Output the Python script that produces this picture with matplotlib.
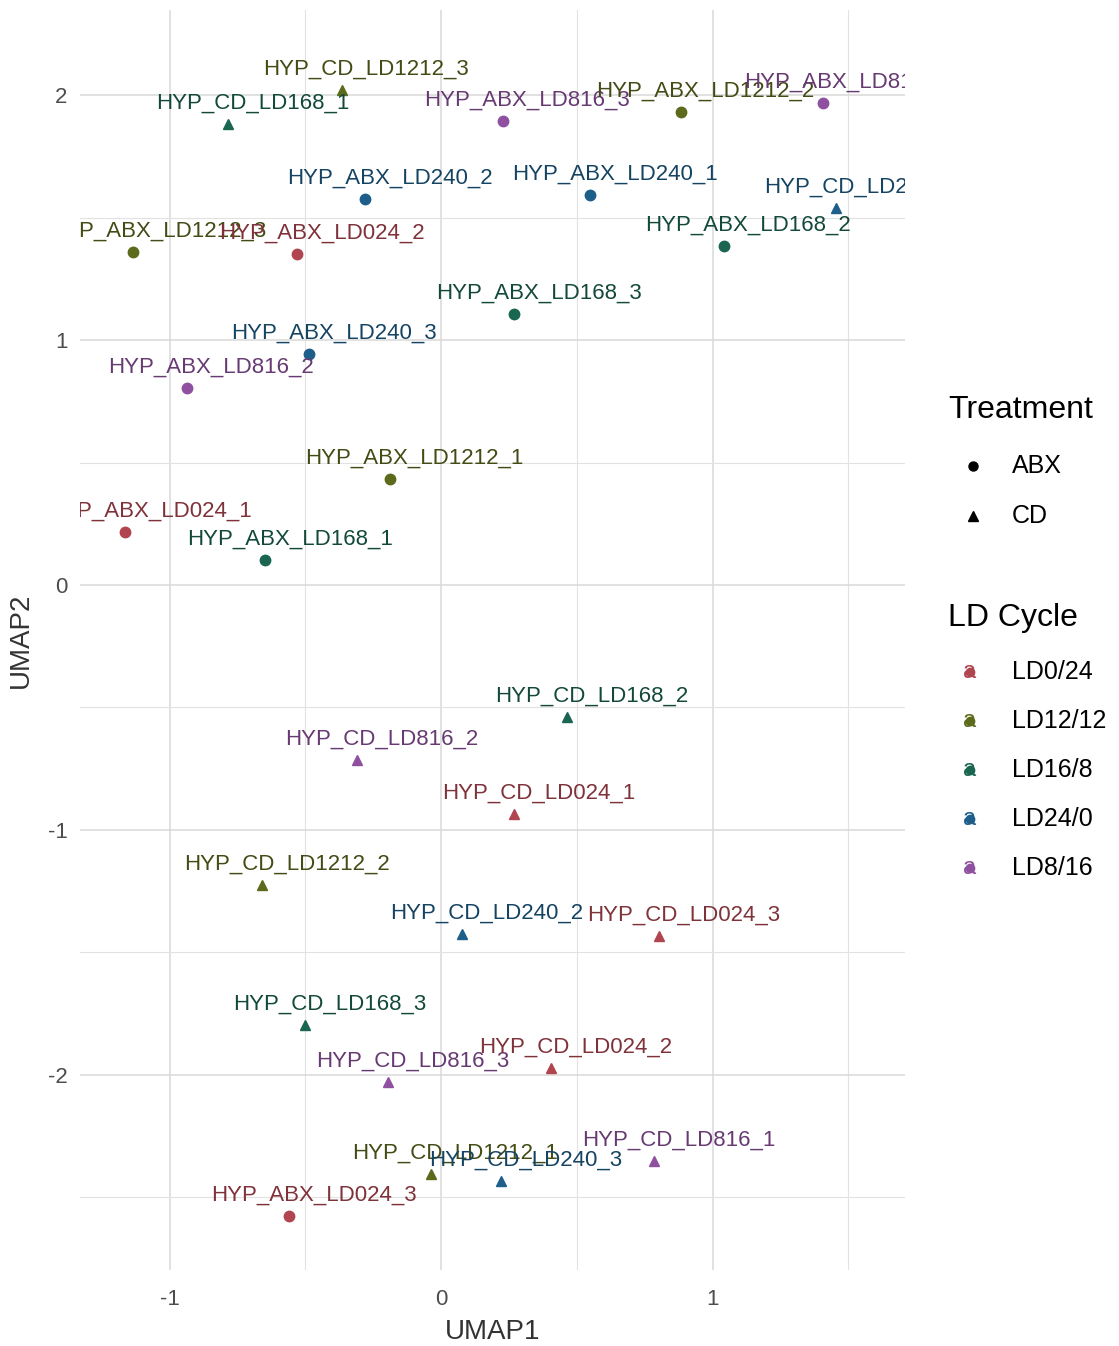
import matplotlib
matplotlib.use('Agg')
import matplotlib.pyplot as plt
from matplotlib.lines import Line2D
import matplotlib.colors as mcolors
import numpy as np

plt.rcParams['font.family'] = ['Liberation Sans', 'DejaVu Sans']
plt.rcParams['axes.unicode_minus'] = False

# sample data
samples = ['HYP_CD_LD1212_3', 'HYP_CD_LD168_1', 'HYP_ABX_LD816_3', 'HYP_ABX_LD1212_2',
           'HYP_ABX_LD816_1', 'HYP_ABX_LD240_2', 'HYP_ABX_LD240_1', 'HYP_CD_LD240_1',
           'HYP_ABX_LD168_2', 'HYP_ABX_LD1212_3', 'HYP_ABX_LD024_2', 'HYP_ABX_LD168_3',
           'HYP_ABX_LD240_3', 'HYP_ABX_LD816_2', 'HYP_ABX_LD1212_1', 'HYP_ABX_LD024_1',
           'HYP_ABX_LD168_1', 'HYP_CD_LD168_2', 'HYP_CD_LD816_2', 'HYP_CD_LD024_1',
           'HYP_CD_LD1212_2', 'HYP_CD_LD240_2', 'HYP_CD_LD024_3', 'HYP_CD_LD168_3',
           'HYP_CD_LD816_3', 'HYP_CD_LD024_2', 'HYP_CD_LD1212_1', 'HYP_CD_LD240_3',
           'HYP_CD_LD816_1', 'HYP_ABX_LD024_3']
umap1 = [-0.365, -0.785, 0.228, 0.884, 1.407, -0.280, 0.549, 1.455,
         1.042, -1.134, -0.530, 0.269, -0.486, -0.936, -0.188, -1.164,
         -0.648, 0.464, -0.309, 0.269, -0.659, 0.077, 0.803, -0.501,
         -0.195, 0.405, -0.037, 0.221, 0.785, -0.560]
umap2 = [2.020, 1.880, 1.894, 1.930, 1.967, 1.576, 1.592, 1.539,
         1.384, 1.359, 1.351, 1.106, 0.943, 0.804, 0.433, 0.216,
         0.102, -0.539, -0.714, -0.935, -1.224, -1.424, -1.433, -1.796,
         -2.029, -1.971, -2.404, -2.433, -2.351, -2.576]

treatments = ['ABX', 'CD']
ld_cycles = ['LD0/24', 'LD12/12', 'LD16/8', 'LD24/0', 'LD8/16']
ld_codes = {'LD024': 'LD0/24', 'LD1212': 'LD12/12', 'LD168': 'LD16/8',
            'LD240': 'LD24/0', 'LD816': 'LD8/16'}
colors = {'LD0/24': '#B0454F', 'LD12/12': '#5C6A1C', 'LD16/8': '#1A6650',
          'LD24/0': '#1D5E8A', 'LD8/16': '#9050A0'}
markers = {'ABX': 'o', 'CD': '^'}


def darker(c, f=0.72):
    r, g, b = mcolors.to_rgb(c)
    return (r * f, g * f, b * f)


W, H = 1119, 1346
fig = plt.figure(figsize=(W / 100, H / 100), dpi=100)
ax = fig.add_axes([80 / W, 1 - 1270 / H, 825 / W, 1260 / H])

ax.set_xlim(-1.33, 1.709)
ax.set_ylim(-2.796, 2.347)
ax.set_xticks([-1, 0, 1])
ax.set_yticks([-2, -1, 0, 1, 2])
ax.set_xticks([-0.5, 0.5, 1.5], minor=True)
ax.set_yticks([-2.5, -1.5, -0.5, 0.5, 1.5], minor=True)
ax.grid(which='major', color='#D8D8D8', lw=1.1)
ax.grid(which='minor', color='#E2E2E2', lw=0.8)
ax.set_axisbelow(True)
for s in ax.spines.values():
    s.set_visible(False)
ax.tick_params(which='both', length=0, labelsize=16, labelcolor='#4D4D4D')
ax.tick_params(axis='x', pad=14)
ax.tick_params(axis='y', pad=9)
ax.set_xlabel('UMAP1', fontsize=20, labelpad=6, color='#333333')
ax.set_ylabel('UMAP2', fontsize=20, labelpad=10, color='#333333')

for name, x, y in zip(samples, umap1, umap2):
    parts = name.split('_')
    trt, ld = parts[1], ld_codes[parts[2]]
    c = colors[ld]
    ax.plot(x, y, marker=markers[trt], color=c, ms=7.5, ls='none')
    ax.text(x + 0.09, y + 0.086, name, color=darker(c), fontsize=16, ha='center',
            va='center', clip_on=True)

# legends drawn by hand, ggplot-style
fig.text(948 / W, 1 - 410 / H, 'Treatment', fontsize=23, va='center')
for i, t in enumerate(treatments):
    yy = 1 - (466 + 50 * i) / H
    fig.add_artist(Line2D([973 / W], [yy], marker=markers[t], color='black',
                          ms=6.5, ls='none'))
    fig.text(1012 / W, yy, t, fontsize=18, va='center')

fig.text(948 / W, 1 - 618 / H, 'LD Cycle', fontsize=23, va='center')
for i, ld in enumerate(ld_cycles):
    yy = 1 - (672 + 49 * i) / H
    fig.add_artist(Line2D([970 / W], [yy], marker='o', color=colors[ld],
                          ms=6, ls='none'))
    fig.text(970 / W, yy, 'a', color=colors[ld], fontsize=17, ha='center',
             va='center')
    fig.text(1012 / W, yy, ld, fontsize=18, va='center')

fig.savefig('out.png', dpi=100, facecolor='white')
